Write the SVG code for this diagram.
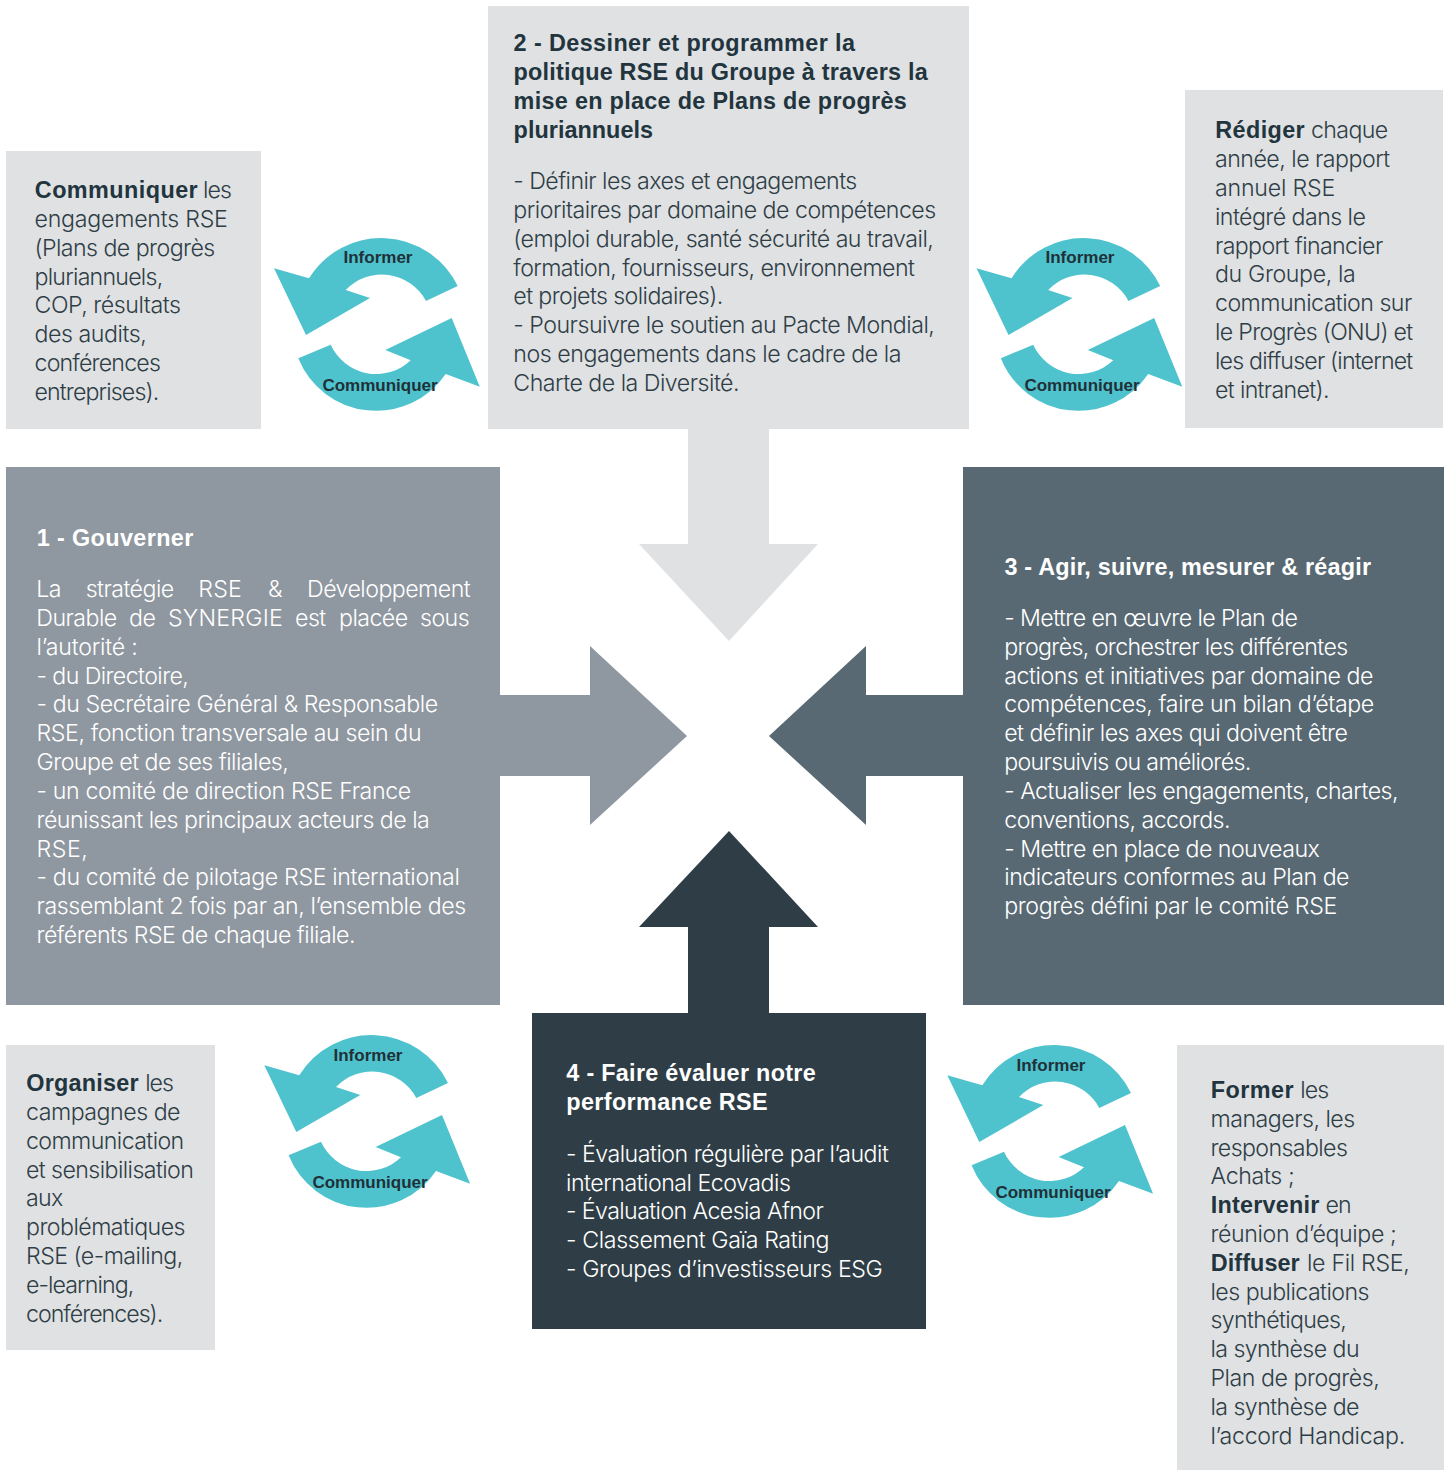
<svg xmlns="http://www.w3.org/2000/svg" width="1451" height="1470" viewBox="0 0 1451 1470">
<style>
text{font-family:"Inter","Liberation Sans",sans-serif;font-size:23.2px;font-weight:300;letter-spacing:-0.55px}
.l{fill:#2f3e46}.w{fill:#fff}
.b{font-family:"Liberation Sans",sans-serif;font-size:23.4px;font-weight:700;letter-spacing:0}
.l.b{fill:#22343d}
.c{letter-spacing:0.2px}
.i{font-size:17px;font-weight:700;fill:#1f3038;font-family:"Liberation Sans",sans-serif;letter-spacing:0;text-anchor:middle}
.g{fill:#dfe1e3}.t{fill:#4fc3cd}
</style>
<defs>
<g id="cy">
<path class="t" d="M457.7 286A85 85 0 0 0 309 278.3L274 268.3L306 335L370 298L345.7 290A50 50 0 0 1 426 301Z"/>
<path class="t" d="M298.3 358.3A84 84 0 0 0 445.7 374L479.8 386.7L451.7 318L385.3 350L410.7 360.3A50 50 0 0 1 330.7 344.7Z"/>
</g>
</defs>
<g id="connectors">
<path class="g" d="M688 429H769V544H818L729 641L639 544H688Z"/>
<path fill="#8f97a0" d="M500 695H590V646L687 736L590 825V776H500Z"/>
<path fill="#586973" d="M963 695H866V646L769 736L866 825V776H963Z"/>
<path fill="#2f3e46" d="M688 1013V927H639L729 831L818 927H769V1013Z"/>
</g>
<g id="box2"><rect class="g" x="488" y="6" width="481" height="423"/>
<text class="l b" x="513.6" y="51" textLength="341.4">2 - Dessiner et programmer la</text>
<text class="l b" x="513.6" y="80" textLength="414.1">politique RSE du Groupe à travers la</text>
<text class="l b" x="513.6" y="109" textLength="393.1">mise en place de Plans de progrès</text>
<text class="l b" x="513.6" y="138" textLength="139.4">pluriannuels</text>
<text class="l" x="513.3" y="189" textLength="343.4">- Définir les axes et engagements</text>
<text class="l" x="513.3" y="218" textLength="422.4">prioritaires par domaine de compétences</text>
<text class="l" x="513.3" y="247" textLength="420">(emploi durable, santé sécurité au travail,</text>
<text class="l" x="513.3" y="276" textLength="401">formation, fournisseurs, environnement</text>
<text class="l" x="513.3" y="304" textLength="209.4">et projets solidaires).</text>
<text class="l" x="513.3" y="333" textLength="421">- Poursuivre le soutien au Pacte Mondial,</text>
<text class="l" x="513.3" y="362" textLength="387.7">nos engagements dans le cadre de la</text>
<text class="l" x="513.3" y="391" textLength="225.7">Charte de la Diversité.</text>
</g>
<g id="box-communiquer"><rect class="g" x="6" y="151" width="255" height="278"/>
<text class="l b" x="34.8" y="198" textLength="162.9">Communiquer</text><text class="l" x="203" y="198" textLength="28.3">les</text>
<text class="l" x="34.5" y="227" textLength="192.8">engagements RSE</text>
<text class="l" x="34.5" y="256" textLength="180.2">(Plans de progrès</text>
<text class="l" x="34.5" y="285" textLength="128.2">pluriannuels,</text>
<text class="l" x="34.5" y="313" textLength="145.8">COP, résultats</text>
<text class="l" x="34.5" y="342" textLength="111.8">des audits,</text>
<text class="l" x="34.5" y="371" textLength="125.8">conférences</text>
<text class="l" x="34.5" y="400" textLength="124.2">entreprises).</text>
</g>
<g id="box-rediger"><rect class="g" x="1185" y="90" width="258" height="338"/>
<text class="l b" x="1215.3" y="138" textLength="89.4">Rédiger</text><text class="l" x="1311" y="138" textLength="76.7">chaque</text>
<text class="l" x="1215" y="167" textLength="174.7">année, le rapport</text>
<text class="l" x="1215" y="196" textLength="119.7">annuel RSE</text>
<text class="l" x="1215" y="225" textLength="150.3">intégré dans le</text>
<text class="l" x="1215" y="254" textLength="167.7">rapport financier</text>
<text class="l" x="1215" y="282" textLength="140.3">du Groupe, la</text>
<text class="l" x="1215" y="311" textLength="196.7">communication sur</text>
<text class="l" x="1215" y="340" textLength="197.7">le Progrès (ONU) et</text>
<text class="l" x="1215" y="369" textLength="197.7">les diffuser (internet</text>
<text class="l" x="1215" y="398" textLength="114">et intranet).</text>
</g>
<g id="box1"><rect fill="#8f97a0" x="6" y="467" width="494" height="538"/>
<text class="w b" x="36.8" y="546" textLength="156.5">1 - Gouverner</text>
<text class="w" y="597"><tspan x="36.3">La </tspan><tspan x="85.7">stratégie </tspan><tspan x="198.3" class="c">RSE </tspan><tspan x="268">&amp; </tspan><tspan x="307">Développement</tspan></text>
<text class="w" y="626"><tspan x="36.3">Durable </tspan><tspan x="129">de </tspan><tspan x="168" class="c">SYNERGIE </tspan><tspan x="295">est </tspan><tspan x="339">placée </tspan><tspan x="420">sous</tspan></text>
<text class="w" x="36.5" y="655" textLength="100.8">l’autorité :</text>
<text class="w" x="36.5" y="684" textLength="151.8">- du Directoire,</text>
<text class="w" x="36.5" y="712" textLength="401.2">- du Secrétaire Général &amp; Responsable</text>
<text class="w" x="36.5" y="741" textLength="384.5">RSE, fonction transversale au sein du</text>
<text class="w" x="36.5" y="770" textLength="251.8">Groupe et de ses filiales,</text>
<text class="w" x="36.5" y="799" textLength="374.2">- un comité de direction RSE France</text>
<text class="w" x="36.5" y="828" textLength="392.8">réunissant les principaux acteurs de la</text>
<text class="w" x="36.5" y="857" textLength="50.8">RSE,</text>
<text class="w" x="36.5" y="885" textLength="422.8">- du comité de pilotage RSE international</text>
<text class="w" x="36.5" y="914" textLength="429.2">rassemblant 2 fois par an, l’ensemble des</text>
<text class="w" x="36.5" y="943" textLength="318.5">référents RSE de chaque filiale.</text>
</g>
<g id="box3"><rect fill="#586973" x="963" y="467" width="481" height="538"/>
<text class="w b" x="1004.5" y="575" textLength="366.5">3 - Agir, suivre, mesurer &amp; réagir</text>
<text class="w" x="1004.2" y="626" textLength="293.1">- Mettre en œuvre le Plan de</text>
<text class="w" x="1004.2" y="655" textLength="343.5">progrès, orchestrer les différentes</text>
<text class="w" x="1004.2" y="684" textLength="368.8">actions et initiatives par domaine de</text>
<text class="w" x="1004.2" y="712" textLength="369.5">compétences, faire un bilan d’étape</text>
<text class="w" x="1004.2" y="741" textLength="343.1">et définir les axes qui doivent être</text>
<text class="w" x="1004.2" y="770" textLength="246.5">poursuivis ou améliorés.</text>
<text class="w" x="1004.2" y="799" textLength="393.8">- Actualiser les engagements, chartes,</text>
<text class="w" x="1004.2" y="828" textLength="225.8">conventions, accords.</text>
<text class="w" x="1004.2" y="857" textLength="315.1">- Mettre en place de nouveaux</text>
<text class="w" x="1004.2" y="885" textLength="344.8">indicateurs conformes au Plan de</text>
<text class="w" x="1004.2" y="914" textLength="332.5">progrès défini par le comité RSE</text>
</g>
<g id="box4"><rect fill="#2f3e46" x="532" y="1013" width="394" height="316"/>
<text class="w b" x="566.3" y="1081" textLength="249.4">4 - Faire évaluer notre</text>
<text class="w b" x="566.3" y="1110" textLength="201.4">performance RSE</text>
<text class="w" x="566" y="1162" textLength="322.3">- Évaluation régulière par l’audit</text>
<text class="w" x="566" y="1191" textLength="224.3">international Ecovadis</text>
<text class="w" x="566" y="1219" textLength="257.3">- Évaluation Acesia Afnor</text>
<text class="w" x="566" y="1248" textLength="263">- Classement Gaïa Rating</text>
<text class="w" x="566" y="1277" textLength="316.3">- Groupes d’investisseurs ESG</text>
</g>
<g id="box-organiser"><rect class="g" x="6" y="1045" width="209" height="305"/>
<text class="l b" x="26.3" y="1091" textLength="112.4">Organiser</text><text class="l" x="145.3" y="1091" textLength="28">les</text>
<text class="l" x="26" y="1120" textLength="154">campagnes de</text>
<text class="l" x="26" y="1149" textLength="157.7">communication</text>
<text class="l" x="26" y="1178" textLength="167.3">et sensibilisation</text>
<text class="l" x="26" y="1206" textLength="36.7">aux</text>
<text class="l" x="26" y="1235" textLength="159">problématiques</text>
<text class="l" x="26" y="1264" textLength="156.7">RSE (e-mailing,</text>
<text class="l" x="26" y="1293" textLength="107.7">e-learning,</text>
<text class="l" x="26" y="1322" textLength="136.7">conférences).</text>
</g>
<g id="box-former"><rect class="g" x="1177" y="1045" width="267" height="425"/>
<text class="l b" x="1210.8" y="1098" textLength="82.9">Former</text><text class="l" x="1300.3" y="1098" textLength="28.4">les</text>
<text class="l" x="1210.5" y="1127" textLength="144.2">managers, les</text>
<text class="l" x="1210.5" y="1156" textLength="136.8">responsables</text>
<text class="l" x="1210.5" y="1184" textLength="83.8">Achats ;</text>
<text class="l b" x="1210.8" y="1213" textLength="108.5">Intervenir</text><text class="l" x="1325.6" y="1213" textLength="25.4">en</text>
<text class="l" x="1210.5" y="1242" textLength="185.8">réunion d’équipe ;</text>
<text class="l b" x="1210.8" y="1271" textLength="88.9">Diffuser</text><text class="l" x="1307" y="1271" textLength="102.3">le Fil RSE,</text>
<text class="l" x="1210.5" y="1300" textLength="158.5">les publications</text>
<text class="l" x="1210.5" y="1328" textLength="135.8">synthétiques,</text>
<text class="l" x="1210.5" y="1357" textLength="148.5">la synthèse du</text>
<text class="l" x="1210.5" y="1386" textLength="168.8">Plan de progrès,</text>
<text class="l" x="1210.5" y="1415" textLength="148.5">la synthèse de</text>
<text class="l" x="1210.5" y="1444" textLength="194.2">l’accord Handicap.</text>
</g>
<g id="cycle-1"><use href="#cy"/><text class="i" x="378" y="263">Informer</text><text class="i" x="380" y="391">Communiquer</text></g>
<g id="cycle-2"><use href="#cy" transform="translate(702.5 0)"/><text class="i" x="1080" y="263">Informer</text><text class="i" x="1082" y="391">Communiquer</text></g>
<g id="cycle-3"><use href="#cy" transform="translate(-9.7 797)"/><text class="i" x="368" y="1061">Informer</text><text class="i" x="370" y="1188">Communiquer</text></g>
<g id="cycle-4"><use href="#cy" transform="translate(673.3 807)"/><text class="i" x="1051" y="1071">Informer</text><text class="i" x="1053" y="1198">Communiquer</text></g>
</svg>
